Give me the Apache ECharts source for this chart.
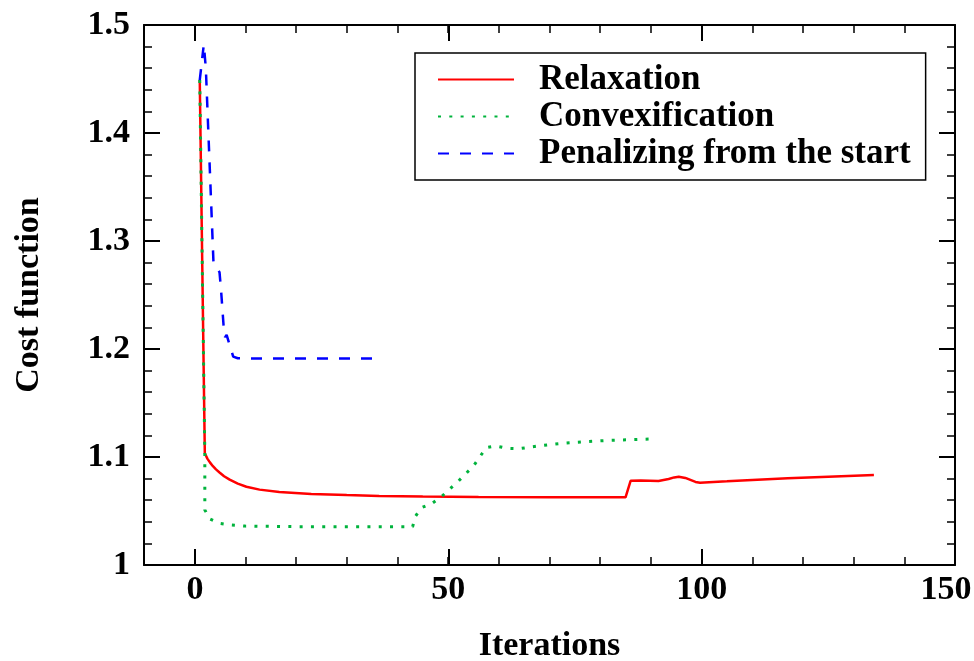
<!DOCTYPE html>
<html>
<head>
<meta charset="utf-8">
<script src="https://cdn.jsdelivr.net/npm/echarts@6/dist/echarts.min.js"></script>
<style>
  html, body { margin: 0; padding: 0; background: #fff; }
  #chart { width: 974px; height: 661px; }
</style>
</head>
<body>
<div id="chart"></div>
<script>
// values
const relaxIter = [1, 2, 2.5, 3, 3.6, 4.2, 4.9, 5.8, 6.9, 8.5, 10.2, 12.8, 16.7, 23, 30, 36.4, 45, 56, 70, 85, 86, 88, 91.5, 93.5, 94.6, 95.5, 96.8, 98.8, 99.7, 105, 110, 117, 125, 134];
const relaxCost = [1.449, 1.1034, 1.0985, 1.095, 1.0915, 1.0885, 1.0857, 1.0822, 1.079, 1.0753, 1.0725, 1.0698, 1.0675, 1.0657, 1.0647, 1.064, 1.0634, 1.063, 1.0628, 1.0627, 1.078, 1.0782, 1.0778, 1.0796, 1.0811, 1.0818, 1.0806, 1.0769, 1.0762, 1.0775, 1.0788, 1.0803, 1.0818, 1.0833];

const convIter = [1, 2, 2, 3, 4.9, 7.2, 10, 20, 30, 43, 43.5, 44.7, 46.8, 48.6, 52, 55, 57.5, 59.4, 61.7, 64, 66, 68.2, 72.6, 77, 81.6, 86, 91];
const convCost = [1.449, 1.103, 1.051, 1.0426, 1.0386, 1.037, 1.036, 1.0355, 1.0355, 1.0355, 1.0447, 1.053, 1.057, 1.063, 1.0775, 1.0917, 1.1086, 1.1102, 1.108, 1.1077, 1.109, 1.1105, 1.1127, 1.1142, 1.1154, 1.116, 1.1168];

const penIter = [1, 1.8, 2.2, 3.7, 4.9, 5.2, 5.8, 6.0, 6.3, 7.6, 8.5, 12, 20, 30, 36];
const penCost = [1.449, 1.482, 1.46, 1.281, 1.271, 1.2546, 1.215, 1.211, 1.213, 1.193, 1.1914, 1.1912, 1.1912, 1.1912, 1.1912];

const seriesNames = ['Relaxation', 'Convexification', 'Penalizing from the start'];

function zip(xs, ys) {
  return xs.map((x, i) => [x, ys[i]]);
}

const FONT = 'Liberation Serif';
const lbl = { fontFamily: FONT, fontWeight: 'bold', fontSize: 34, color: '#000' };
const axLine = { show: true, onZero: false, lineStyle: { color: '#000', width: 2 } };

const chart = echarts.init(document.getElementById('chart'));
const option = {
  animation: false,
  grid: [
    { left: 144, right: 19, top: 25, bottom: 96, outerBoundsMode: 'none', containLabel: false },
    // major x ticks (0..150) on their own grid
    { left: 195, right: 19, top: 25, bottom: 96, outerBoundsMode: 'none', containLabel: false }
  ],
  legend: {
    orient: 'vertical',
    left: 415,
    top: 53,
    borderColor: '#000',
    borderWidth: 1.5,
    padding: [9, 15, 9, 22],
    itemWidth: 76,
    itemHeight: 14,
    itemGap: 2,
    itemStyle: { opacity: 0 },
    textStyle: Object.assign({}, lbl, { fontSize: 35, padding: [0, 0, 0, 20] }),
    data: seriesNames
  },
  xAxis: [
    {
      gridIndex: 0, type: 'value', position: 'bottom',
      min: -10, max: 150, interval: 10,
      name: 'Iterations', nameLocation: 'middle', nameGap: 64,
      nameTextStyle: lbl,
      axisLine: axLine,
      axisTick: { inside: true, length: 8, lineStyle: { color: '#000', width: 1.5 } },
      axisLabel: { show: false },
      splitLine: { show: false }
    },
    {
      gridIndex: 0, type: 'value', position: 'top',
      min: -10, max: 150, interval: 10,
      axisLine: axLine,
      axisTick: { inside: true, length: 8, lineStyle: { color: '#000', width: 1.5 } },
      axisLabel: { show: false },
      splitLine: { show: false }
    },
    {
      gridIndex: 1, type: 'value', position: 'bottom',
      min: 0, max: 150, interval: 50,
      axisLine: { show: false },
      axisTick: { inside: true, length: 16, lineStyle: { color: '#000', width: 2 } },
      axisLabel: Object.assign({
        margin: 8,
        // last label is nudged left so it stays on the page
        formatter: v => v === 150 ? '{r|150}' : String(v),
        rich: { r: Object.assign({ padding: [0, 18, 0, 0] }, lbl) }
      }, lbl),
      splitLine: { show: false }
    },
    {
      gridIndex: 1, type: 'value', position: 'top',
      min: 0, max: 150, interval: 50,
      axisLine: { show: false },
      axisTick: { inside: true, length: 16, lineStyle: { color: '#000', width: 2 } },
      axisLabel: { show: false },
      splitLine: { show: false }
    }
  ],
  yAxis: [
    {
      gridIndex: 0, type: 'value', position: 'left',
      min: 1, max: 1.5, interval: 0.1,
      name: 'Cost function', nameLocation: 'middle', nameGap: 98, nameRotate: 90,
      nameTextStyle: lbl,
      axisLine: axLine,
      axisTick: { inside: true, length: 16, lineStyle: { color: '#000', width: 2 } },
      minorTick: { show: true, splitNumber: 5, length: 8, lineStyle: { color: '#000', width: 1.5 } },
      axisLabel: Object.assign({ margin: 14 }, lbl),
      splitLine: { show: false }
    },
    {
      gridIndex: 0, type: 'value', position: 'right',
      min: 1, max: 1.5, interval: 0.1,
      axisLine: axLine,
      axisTick: { inside: true, length: 16, lineStyle: { color: '#000', width: 2 } },
      minorTick: { show: true, splitNumber: 5, length: 8, lineStyle: { color: '#000', width: 1.5 } },
      axisLabel: { show: false },
      splitLine: { show: false }
    },
    {
      gridIndex: 1, type: 'value', min: 1, max: 1.5, show: false
    }
  ],
  series: [
    {
      name: seriesNames[0], type: 'line', xAxisIndex: 0, yAxisIndex: 0,
      data: zip(relaxIter, relaxCost), symbol: 'none',
      lineStyle: { color: '#ff0000', width: 2.5 }, itemStyle: { color: '#ff0000' }
    },
    {
      name: seriesNames[1], type: 'line', xAxisIndex: 0, yAxisIndex: 0,
      data: zip(convIter, convCost), symbol: 'none',
      lineStyle: { color: '#00b33c', width: 3, type: [3, 8.3] }, itemStyle: { color: '#00b33c' }
    },
    {
      name: seriesNames[2], type: 'line', xAxisIndex: 0, yAxisIndex: 0,
      data: zip(penIter, penCost), symbol: 'none',
      lineStyle: { color: '#0000ff', width: 2.5, type: [11, 11] }, itemStyle: { color: '#0000ff' }
    }
  ]
};
chart.setOption(option);
</script>
</body>
</html>
